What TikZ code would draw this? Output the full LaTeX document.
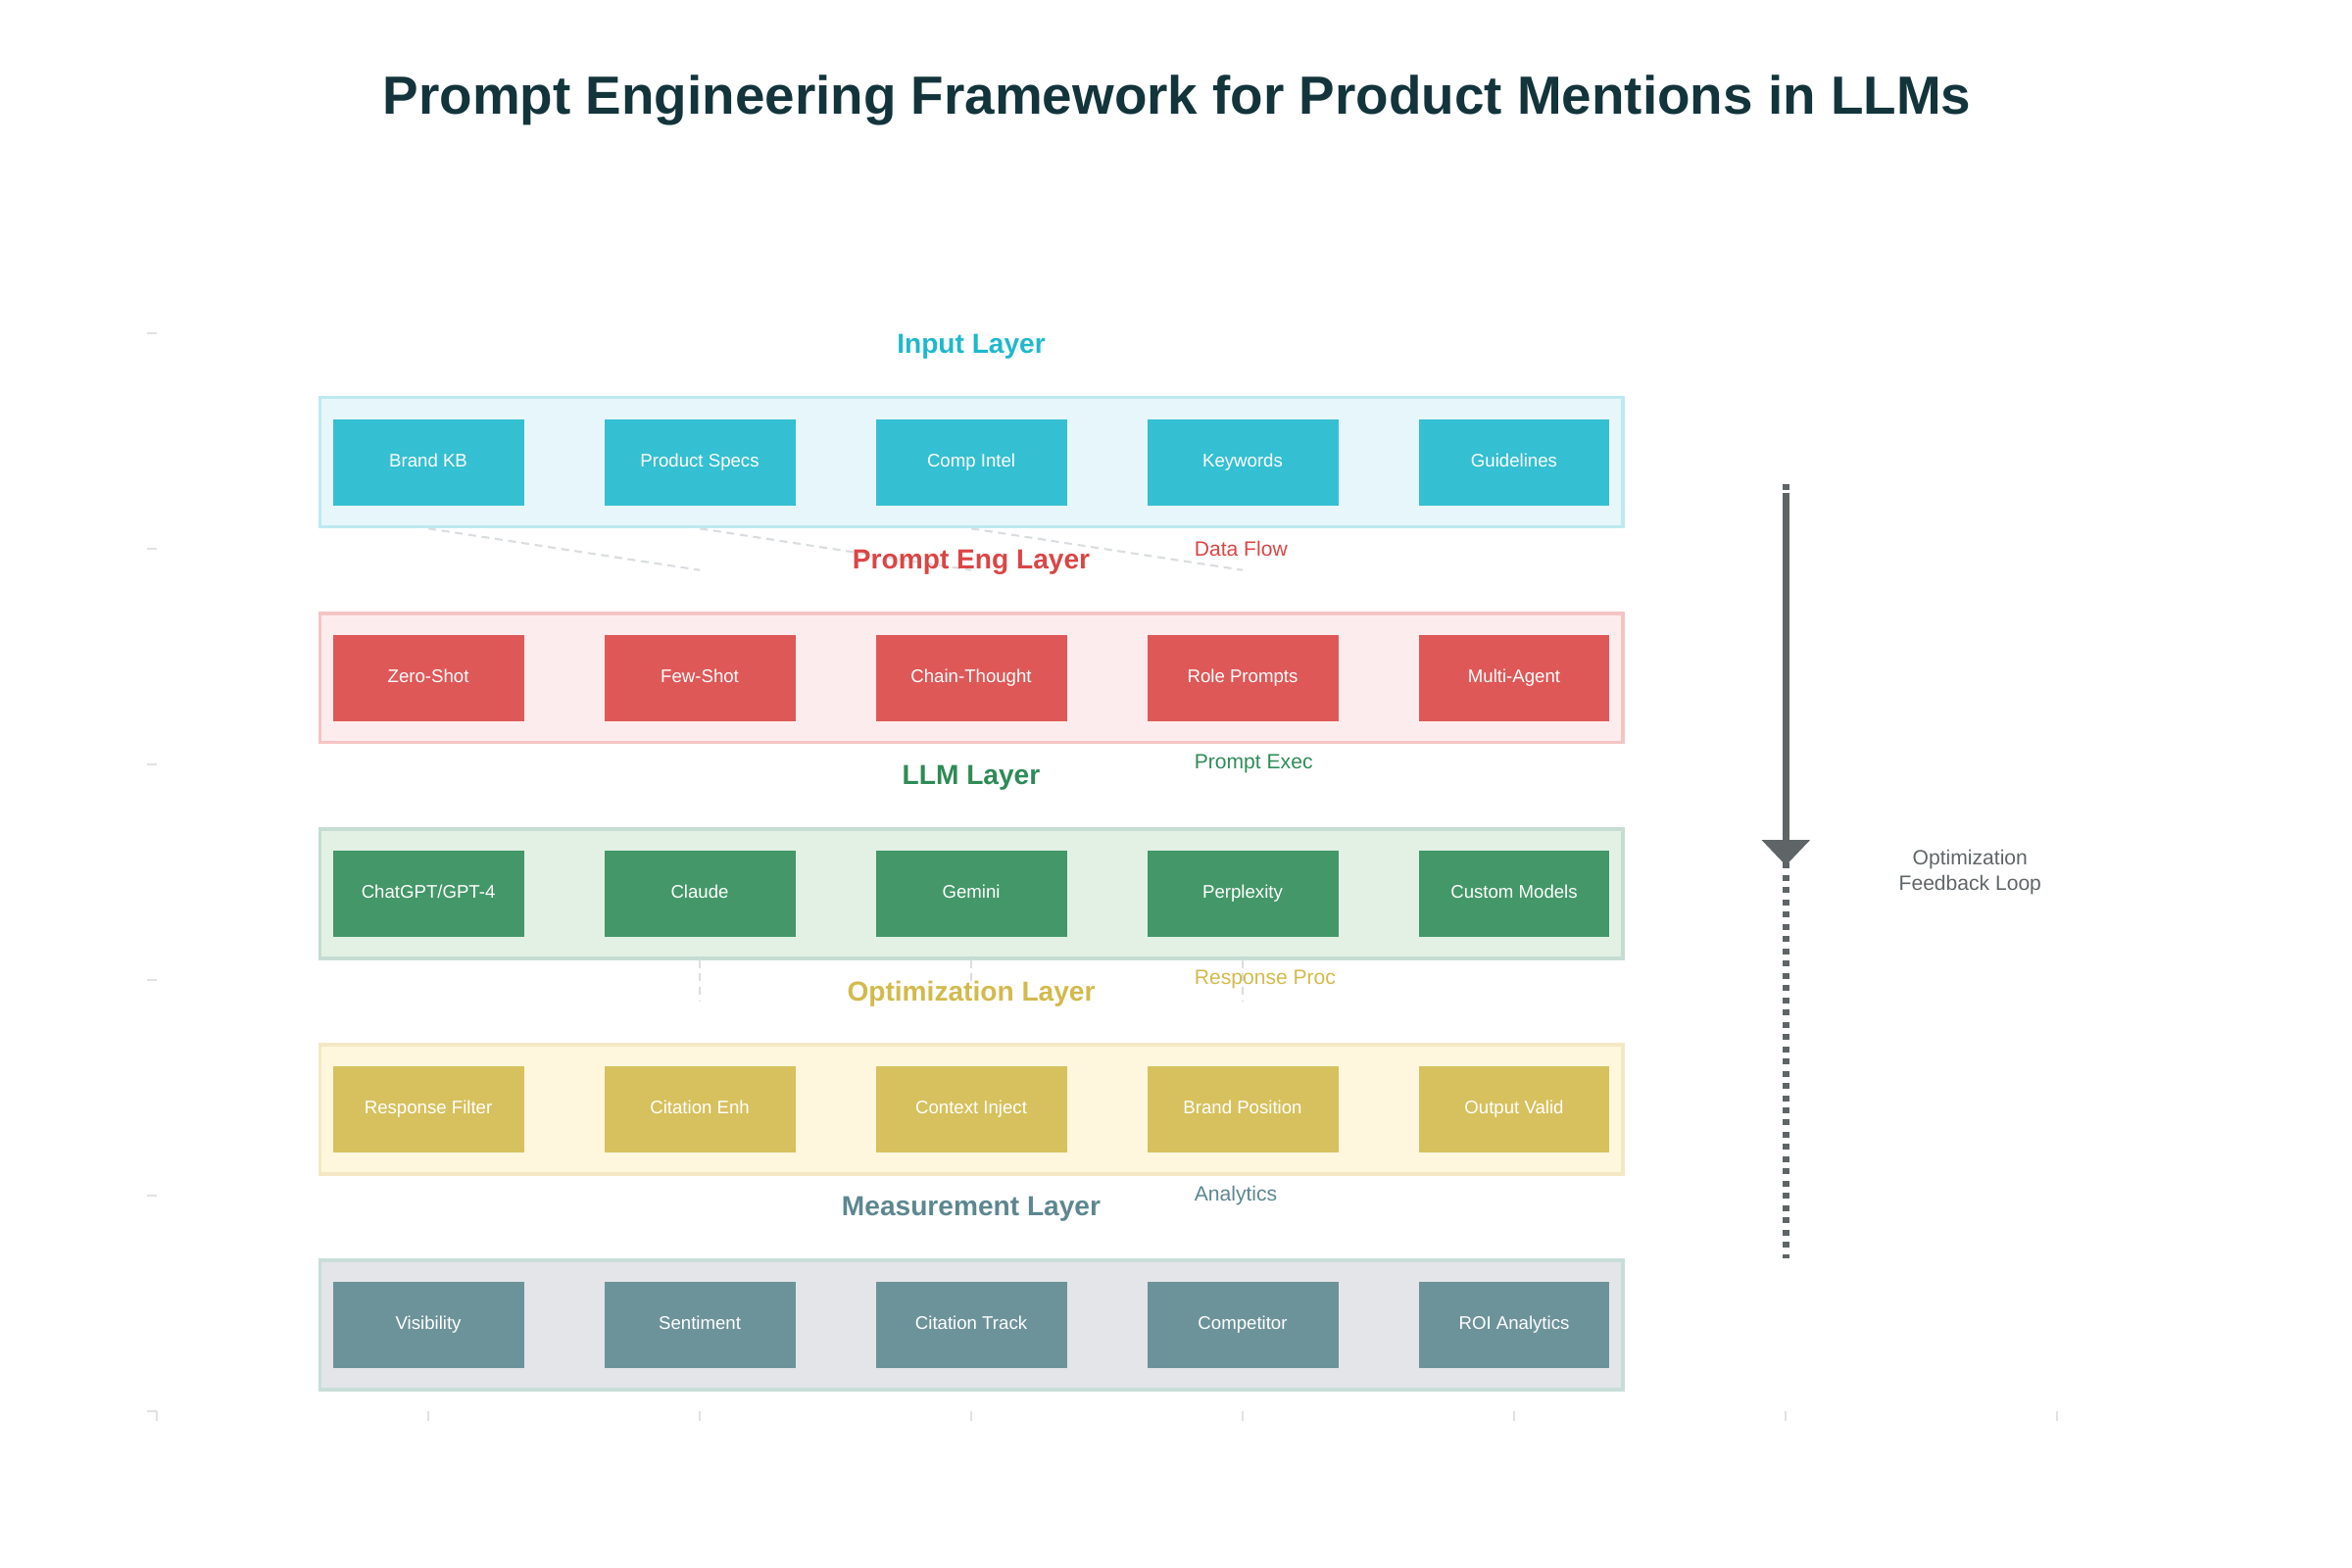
\documentclass[tikz,border=0pt]{standalone}
\usepackage{fontspec}
\setmainfont{Liberation Sans}
\usetikzlibrary{arrows.meta,fit}
\definecolor{incol}{HTML}{1FB8CD}
\definecolor{pecol}{HTML}{DB4545}
\definecolor{llmcol}{HTML}{2E8B57}
\definecolor{optcol}{HTML}{D2BA4C}
\definecolor{mscol}{HTML}{5D878F}
\definecolor{infill}{HTML}{E6F6FA}\definecolor{inline}{HTML}{BDE9F0}
\definecolor{pefill}{HTML}{FDECED}\definecolor{peline}{HTML}{F4C4C4}
\definecolor{llmfill}{HTML}{E3F1E5}\definecolor{llmline}{HTML}{C6DCD3}
\definecolor{optfill}{HTML}{FEF7DD}\definecolor{optline}{HTML}{F4E8C4}
\definecolor{msfill}{HTML}{E3E5E8}\definecolor{msline}{HTML}{C8DDD8}
\definecolor{titlecol}{HTML}{13343B}
\definecolor{loopcol}{HTML}{5F6567}
\definecolor{flowcol}{HTML}{DADDE0}
\definecolor{tickcol}{HTML}{E2E2E2}
\tikzset{
  box/.style={fill=#1!90, text=white, font=\fontsize{5.3}{6}\selectfont,
    minimum width=1.95cm, minimum height=0.88cm, inner sep=0pt,
    text height=0.6em, text depth=0.32em},
  layer/.style={fill=#1fill, draw=#1line, line width=1pt, inner sep=0pt},
  ltitle/.style={text=#1, font=\fontsize{8}{9}\selectfont\bfseries},
  sidelbl/.style={text=#1, font=\fontsize{6}{7}\selectfont, anchor=west, inner sep=0pt},
  flow/.style={flowcol, line width=0.6pt, dash pattern=on 2.3pt off 1.6pt},
}
\begin{document}
\begin{tikzpicture}[>={Triangle[length=7.4pt,width=13.6pt]}, xscale=2.77, yscale=2.2]
\useasboundingbox (-0.578,-0.727) rectangle (8.087,6.545);
\node[text=titlecol, font=\fontsize{15.6}{18}\selectfont\bfseries] (title) at (3.758,6.08)
  {Prompt Engineering Framework for Product Mentions in LLMs};
% faint ticks of the hidden axes
\foreach \y in {0,...,5} \draw[tickcol, line width=0.5pt] (-0.036,\y) -- (0,\y);
\foreach \x in {0,...,7} \draw[tickcol, line width=0.5pt] (\x,0) -- (\x,-0.045);

% layers
\node[layer=in, fit={(0.6,4.1) (5.4,4.7)}] (inlayer) {};
\node[layer=pe, fit={(0.6,3.1) (5.4,3.7)}] (pelayer) {};
\node[layer=llm, fit={(0.6,2.1) (5.4,2.7)}] (llmlayer) {};
\node[layer=opt, fit={(0.6,1.1) (5.4,1.7)}] (optlayer) {};
\node[layer=ms, fit={(0.6,0.1) (5.4,0.7)}] (mslayer) {};

\foreach \lbl [count=\i] in {Brand KB, Product Specs, Comp Intel, Keywords, Guidelines}
  \node[box=incol] (in\i) at (\i,4.4) {\lbl};
\foreach \lbl [count=\i] in {Zero-Shot, Few-Shot, Chain-Thought, Role Prompts, Multi-Agent}
  \node[box=pecol] (pe\i) at (\i,3.4) {\lbl};
\foreach \lbl [count=\i] in {ChatGPT/GPT-4, Claude, Gemini, Perplexity, Custom Models}
  \node[box=llmcol] (llm\i) at (\i,2.4) {\lbl};
\foreach \lbl [count=\i] in {Response Filter, Citation Enh, Context Inject, Brand Position, Output Valid}
  \node[box=optcol] (opt\i) at (\i,1.4) {\lbl};
\foreach \lbl [count=\i] in {Visibility, Sentiment, Citation Track, Competitor, ROI Analytics}
  \node[box=mscol] (ms\i) at (\i,0.4) {\lbl};

% flows between layers
\foreach \i/\j in {1/2,2/3,3/4} {
  \coordinate (flow\j) at (\j,3.9);
  \draw[flow] (in\i |- inlayer.south) -- (flow\j);
}
\foreach \i/\e in {2/1.9,3/1.97,4/1.9} {
  \coordinate (proc\i) at (\i,\e);
  \draw[flow] (llm\i |- llmlayer.south) -- (proc\i);
}

\node[ltitle=incol] (intitle) at (3,4.935) {Input Layer};
\node[ltitle=pecol] (petitle) at (3,3.935) {Prompt Eng Layer};
\node[ltitle=llmcol] (llmtitle) at (3,2.935) {LLM Layer};
\node[ltitle=optcol] (opttitle) at (3,1.935) {Optimization Layer};
\node[ltitle=mscol] (mstitle) at (3,0.935) {Measurement Layer};

\node[sidelbl=pecol] (datalbl) at (3.82,4.0) {Data Flow};
\node[sidelbl=llmcol] (execlbl) at (3.82,3.0) {Prompt Exec};
\node[sidelbl=optcol] (proclbl) at (3.82,2.0) {Response Proc};
\node[sidelbl=mscol] (anlbl) at (3.82,1.0) {Analytics};

% feedback loop
\coordinate (looptop) at (6,4.3);
\coordinate (loopstart) at (6,4.26);
\coordinate (loophead) at (6,2.53);
\coordinate (loopbot) at (6,0.71);
\draw[loopcol, line width=2pt, dash pattern=on 1.7pt off 1.85pt] (looptop) -- (loopbot);
\draw[->, loopcol, line width=2pt] (loopstart) -- (loophead);
\node[text=loopcol, font=\fontsize{6}{7.4}\selectfont, align=center] (looplbl) at (6.68,2.5)
  {Optimization\\Feedback Loop};
\end{tikzpicture}
\end{document}
